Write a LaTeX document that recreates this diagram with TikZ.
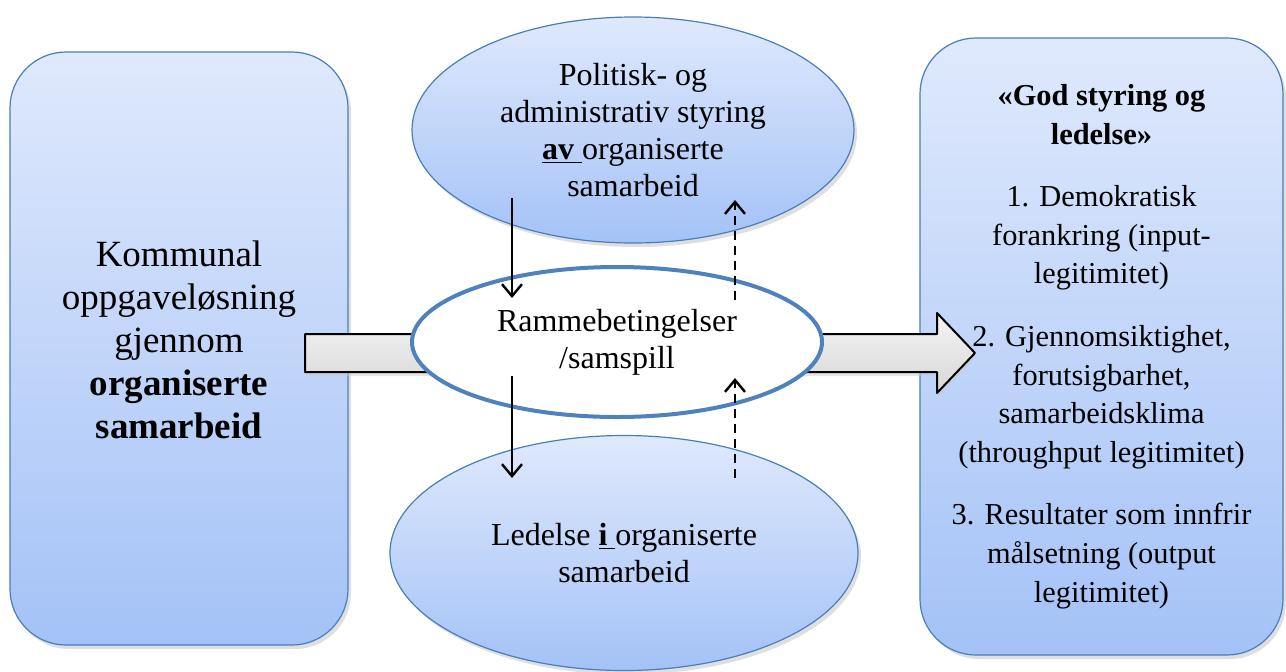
\documentclass[tikz,border=0pt]{standalone}
\usepackage{fontspec}
\setmainfont{Liberation Serif}
\usetikzlibrary{shapes.geometric,shadows,arrows.meta}
\definecolor{boxtop}{RGB}{223,233,252}
\definecolor{boxbot}{RGB}{164,194,247}
\definecolor{boxedge}{RGB}{74,126,187}
\definecolor{rimblue}{RGB}{79,129,189}
\begin{document}
\begin{tikzpicture}[x=0.5pt, y=-0.5pt, line join=round, >={Straight Barb[length=6pt,width=10pt]},
	bluebox/.style={draw=boxedge, line width=0.6pt, top color=boxtop, bottom color=boxbot,
		drop shadow={shadow xshift=1.5pt, shadow yshift=-2pt, fill=black!25}},
	bodytext/.style={font=\fontsize{16}{18.5}\selectfont, align=center, inner sep=0pt}]
	\useasboundingbox (0,0) rectangle (1286,671);
	% side boxes
	\node[bluebox, rounded corners=28pt, minimum width=169pt, minimum height=296.5pt] (kommunal) at (179,348.5) {};
	\node[align=center, inner sep=0pt, font=\fontsize{18.5}{21.5}\selectfont] (kommunaltekst) at (179,340)
		{Kommunal\\oppgaveløsning\\gjennom\\\textbf{organiserte}\\\textbf{samarbeid}};
	\node[bluebox, bodytext, font=\fontsize{15.2}{19.3}\selectfont, rounded corners=28pt,
		minimum width=181.5pt, minimum height=308.5pt] (godstyring) at (1101.5,346.5)
		{\textbf{«God styring og}\\\textbf{ledelse»}\\[12pt]1. Demokratisk\\forankring (input-\\legitimitet)\\[12pt]%
		2. Gjennomsiktighet,\\forutsigbarhet,\\samarbeidsklima\\(throughput legitimitet)\\[12pt]%
		3. Resultater som innfrir\\målsetning (output\\legitimitet)};
	% ellipses
	\node[bluebox, bodytext, ellipse, minimum width=221pt, minimum height=113pt] (styring) at (633,130)
		{Politisk- og\\administrativ styring\\\underline{\textbf{av}\ }organiserte\\samarbeid};
	\node[bluebox, bodytext, ellipse, minimum width=234pt, minimum height=117.5pt] (ledelse) at (624,553)
		{Ledelse \underline{\textbf{i}\ }organiserte\\samarbeid};
	% big arrow
	\draw[top color=gray!8, bottom color=gray!32, line width=1pt,
		drop shadow={shadow xshift=0.5pt, shadow yshift=-2pt, fill=black!20}]
		(305,334) -- (937,334) -- (937,313) -- (975,353) -- (937,393) -- (937,372) -- (305,372) -- cycle;
	\node[bodytext, ellipse, draw=rimblue, line width=2pt, fill=white, minimum width=205pt, minimum height=75pt] (ramme) at (617,342)
		{Rammebetingelser\\/samspill};
	% small arrows
	\coordinate (ned1a) at (512,198);
	\coordinate (ned1b) at (512,298);
	\coordinate (ned2a) at (512,376);
	\coordinate (ned2b) at (512,478);
	\coordinate (opp1a) at (735,300);
	\coordinate (opp1b) at (735,200);
	\coordinate (opp2a) at (735,478);
	\coordinate (opp2b) at (735,378);
	\draw[->, line width=1.2pt] (ned1a) -- (ned1b);
	\draw[->, line width=1.2pt] (ned2a) -- (ned2b);
	\draw[->, line width=1.2pt, dash pattern=on 4.5pt off 3pt] (opp1a) -- (opp1b);
	\draw[->, line width=1.2pt, dash pattern=on 4.5pt off 3pt] (opp2a) -- (opp2b);
\end{tikzpicture}
\end{document}
